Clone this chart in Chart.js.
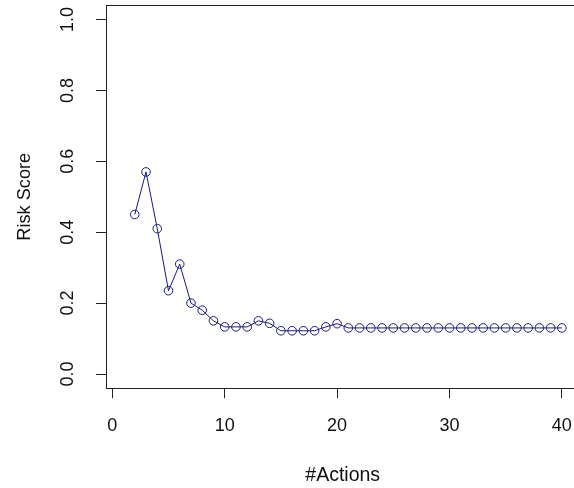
<!DOCTYPE html>
<html>
<head>
<meta charset="utf-8">
<script src="https://cdn.jsdelivr.net/npm/chart.js@4/dist/chart.umd.min.js"></script>
<style>
  html, body { margin: 0; padding: 0; background: #fff; overflow: hidden; }
  #wrap { width: 574px; height: 488px; overflow: hidden; position: relative; }
  canvas { display: block; }
</style>
</head>
<body>
<div id="wrap"><canvas id="c" width="590" height="488"></canvas></div>
<script>
const actions = [2,3,4,5,6,7,8,9,10,11,12,13,14,15,16,17,18,19,20,21,22,23,24,25,26,27,28,29,30,31,32,33,34,35,36,37,38,39,40];
const riskScore = [0.45,0.57,0.41,0.235,0.31,0.20,0.18,0.15,0.133,0.133,0.133,0.15,0.143,0.122,0.122,0.122,0.122,0.133,0.142,
  0.13,0.13,0.13,0.13,0.13,0.13,0.13,0.13,0.13,0.13,0.13,0.13,0.13,0.13,0.13,0.13,0.13,0.13,0.13,0.13];
const xTicks = [0,10,20,30,40];
const yTicks = [0.0,0.2,0.4,0.6,0.8,1.0];
const xTitle = '#Actions';
const yTitle = 'Risk Score';

const FONT = 'Liberation Sans, Arial, sans-serif';
const LINE = '#1a1a80';

const boxPlugin = {
  id: 'box',
  afterDraw(chart) {
    const a = chart.chartArea, ctx = chart.ctx;
    ctx.save();
    ctx.strokeStyle = '#222';
    ctx.lineWidth = 1;
    ctx.strokeRect(Math.round(a.left) + 0.5, Math.round(a.top) + 0.5, Math.round(a.right - a.left), Math.round(a.bottom - a.top));
    ctx.restore();
  }
};

new Chart(document.getElementById('c'), {
  type: 'line',
  data: {
    datasets: [{
      data: actions.map((x, i) => ({ x: x, y: riskScore[i] })),
      borderColor: LINE,
      borderWidth: 1,
      backgroundColor: 'rgba(0,0,0,0)',
      pointStyle: 'circle',
      pointRadius: 4.3,
      pointBorderWidth: 1,
      pointBorderColor: LINE,
      pointBackgroundColor: 'rgba(0,0,0,0)',
      tension: 0,
      fill: false
    }]
  },
  options: {
    responsive: false,
    animation: false,
    devicePixelRatio: 1,
    layout: { padding: { top: 4.8, right: 10.6, bottom: 0, left: 0 } },
    plugins: { legend: { display: false }, tooltip: { enabled: false } },
    scales: {
      x: {
        type: 'linear',
        min: -0.56,
        max: 41.56,
        afterBuildTicks: (s) => { s.ticks = xTicks.map(v => ({ value: v })); },
        afterFit: (s) => { s.height = 99.8; s.paddingLeft = 0; s.paddingRight = 0; },
        grid: { drawOnChartArea: false, drawTicks: true, tickLength: 10, color: '#222', lineWidth: 1 },
        border: { display: true, color: '#222', width: 1 },
        ticks: { color: '#111', font: { family: FONT, size: 18 }, padding: 17, maxRotation: 0, minRotation: 0, autoSkip: false },
        title: { display: true, text: xTitle, color: '#111', font: { family: FONT, size: 19.5 }, padding: { top: 0, bottom: 1 } }
      },
      y: {
        type: 'linear',
        min: -0.04,
        max: 1.04,
        afterBuildTicks: (s) => { s.ticks = yTicks.map(v => ({ value: v })); },
        afterFit: (s) => { s.width = 106; s.paddingTop = 0; s.paddingBottom = 0; },
        grid: { drawOnChartArea: false, drawTicks: true, tickLength: 10, color: '#222', lineWidth: 1 },
        border: { display: true, color: '#222', width: 1 },
        ticks: { color: '#111', font: { family: FONT, size: 18 }, padding: 15, minRotation: 90, maxRotation: 90, crossAlign: 'center', autoSkip: false,
          callback: (v) => Number(v).toFixed(1) },
        title: { display: true, text: yTitle, color: '#111', font: { family: FONT, size: 18.2 }, padding: { top: 14, bottom: 0 } }
      }
    }
  },
  plugins: [boxPlugin]
});
</script>
</body>
</html>
